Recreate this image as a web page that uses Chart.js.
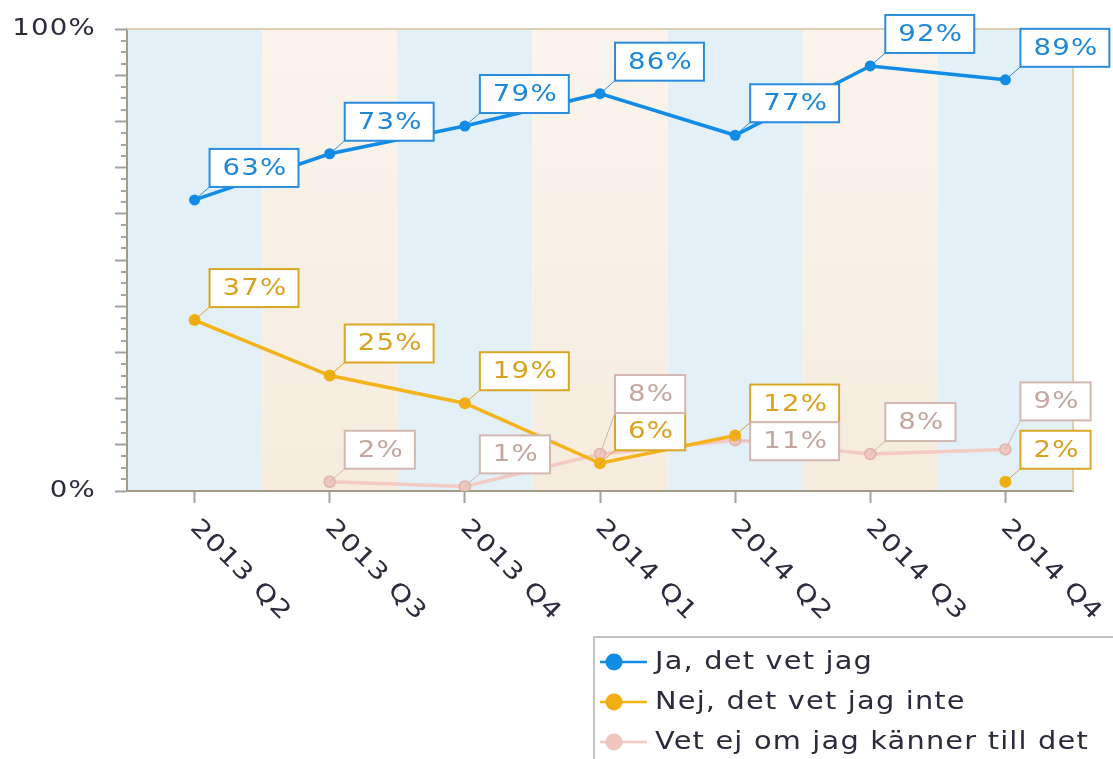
<!DOCTYPE html>
<html>
<head>
<meta charset="utf-8">
<script src="https://cdn.jsdelivr.net/npm/chart.js@4.4.1/dist/chart.umd.min.js"></script>
<style>
  html, body { margin: 0; padding: 0; background: #fff; }
  #wrap { width: 1113px; height: 759px; }
</style>
</head>
<body>
<div id="wrap"><canvas id="chart" width="1113" height="759"></canvas></div>
<script>
// data
const quarters = ['2013 Q2', '2013 Q3', '2013 Q4', '2014 Q1', '2014 Q2', '2014 Q3', '2014 Q4'];
const jaVetJag = [63, 73, 79, 86, 77, 92, 89];
const nejVetJagInte = [37, 25, 19, 6, 12, null, 2];
const vetEjOmJag = [null, 2, 1, 8, 11, 8, 9];
const seriesNames = ['Ja, det vet jag', 'Nej, det vet jag inte', 'Vet ej om jag känner till det'];
const yTickLabels = [0, 100];

const FONT = '"DejaVu Sans", Verdana, sans-serif';
const SX = 1.2; // the original font is wide, stretch text a bit
const textColor = '#2b2b3d';

// label box colours per series, and nudges where boxes would collide
const labelColors = ['#1d87d8', '#d9a11e', '#c4a6a0'];
const labelBorders = ['#2a8cdc', '#dba624', '#d3b8b2'];
const labelNudge = { '2:3': -28, '2:4': 33, '2:6': -16 };

function textWidth(ctx, text) {
  return ctx.measureText(text).width * SX;
}

function wideText(ctx, text, x, y, align) {
  const w = textWidth(ctx, text);
  const x0 = align === 'right' ? x - w : align === 'center' ? x - w / 2 : x;
  ctx.save();
  ctx.textAlign = 'left';
  ctx.translate(x0, y);
  ctx.scale(SX, 1);
  ctx.fillText(text, 0, 0);
  ctx.restore();
}

const decor = {
  id: 'decor',
  beforeDraw(chart) {
    const { ctx, chartArea: a, scales: { x } } = chart;
    const half = (x.getPixelForValue(1) - x.getPixelForValue(0)) / 2;
    ctx.save();
    quarters.forEach((q, i) => {
      const cx = x.getPixelForValue(i);
      if (i % 2) {
        const g = ctx.createLinearGradient(0, a.top, 0, a.bottom);
        g.addColorStop(0, '#faf4ec');
        g.addColorStop(1, '#f5ecde');
        ctx.fillStyle = g;
      } else {
        ctx.fillStyle = '#e3f0f7';
      }
      ctx.fillRect(cx - half, a.top, half * 2, a.bottom - a.top);
    });
    ctx.restore();
  },
  beforeDatasetsDraw(chart) {
    const { ctx, chartArea: a, scales: { x, y } } = chart;
    ctx.save();
    // top and right frame
    ctx.strokeStyle = '#dccfb2';
    ctx.lineWidth = 2;
    ctx.beginPath();
    ctx.moveTo(a.left, a.top);
    ctx.lineTo(a.right, a.top);
    ctx.lineTo(a.right, a.bottom);
    ctx.stroke();
    // minor ticks on y
    ctx.strokeStyle = '#a5a5a5';
    ctx.lineWidth = 2;
    for (let v = 2.5; v < 100; v += 2.5) {
      if (v % 10 === 0) continue;
      const py = Math.round(y.getPixelForValue(v));
      ctx.beginPath();
      ctx.moveTo(a.left - 6, py);
      ctx.lineTo(a.left, py);
      ctx.stroke();
    }
    // y labels
    ctx.font = '23px ' + FONT;
    ctx.letterSpacing = '1px';
    ctx.fillStyle = textColor;
    ctx.textBaseline = 'middle';
    yTickLabels.forEach(v => wideText(ctx, v + '%', a.left - 31, y.getPixelForValue(v), 'right'));
    // x labels, rotated down-right
    ctx.font = '24px ' + FONT;
    quarters.forEach((q, i) => {
      ctx.save();
      ctx.translate(x.getPixelForValue(i) - 1, a.bottom + 33);
      ctx.rotate(Math.PI / 4);
      wideText(ctx, q, 0, 0, 'left');
      ctx.restore();
    });
    ctx.restore();
  },
  afterDatasetsDraw(chart) {
    const ctx = chart.ctx;
    ctx.save();
    ctx.font = '23px ' + FONT;
    ctx.letterSpacing = '1px';
    ctx.textBaseline = 'middle';
    chart.data.datasets.forEach((ds, di) => {
      const meta = chart.getDatasetMeta(di);
      ds.data.forEach((v, i) => {
        if (v === null) return;
        const pt = meta.data[i];
        const text = v + '%';
        const w = textWidth(ctx, text) + 24;
        const h = 38;
        const left = pt.x + 15;
        const bottom = pt.y - 13 + (labelNudge[di + ':' + i] || 0);
        const top = bottom - h;
        const ly = Math.min(Math.max(pt.y, top), bottom);
        ctx.strokeStyle = labelBorders[di];
        ctx.lineWidth = 1;
        ctx.beginPath();
        ctx.moveTo(pt.x, pt.y);
        ctx.lineTo(left, ly);
        ctx.stroke();
        ctx.fillStyle = '#fff';
        ctx.fillRect(left, top, w, h);
        ctx.lineWidth = 2;
        ctx.strokeRect(left, top, w, h);
        ctx.fillStyle = labelColors[di];
        wideText(ctx, text, left + w / 2 + 1, top + h / 2 + 1, 'center');
      });
    });
    ctx.restore();
  },
  afterDraw(chart) {
    const ctx = chart.ctx;
    ctx.save();
    ctx.strokeStyle = '#c2c2c2';
    ctx.lineWidth = 2;
    ctx.strokeRect(594, 637, 600, 200);
    ctx.font = '24px ' + FONT;
    ctx.letterSpacing = '1px';
    ctx.textBaseline = 'middle';
    chart.data.datasets.forEach((ds, i) => {
      const ry = 662 + i * 40;
      ctx.strokeStyle = ds.borderColor;
      ctx.lineWidth = 2.5;
      ctx.beginPath();
      ctx.moveTo(600, ry);
      ctx.lineTo(647, ry);
      ctx.stroke();
      ctx.fillStyle = ds.pointBackgroundColor;
      ctx.beginPath();
      ctx.arc(614, ry, 8.5, 0, Math.PI * 2);
      ctx.fill();
      ctx.fillStyle = textColor;
      wideText(ctx, ds.label, 655, ry + 1, 'left');
    });
    ctx.restore();
  }
};

new Chart(document.getElementById('chart'), {
  type: 'line',
  data: {
    labels: quarters,
    datasets: [{
      label: seriesNames[0],
      data: jaVetJag,
      borderColor: '#118ce6',
      borderWidth: 3.5,
      pointRadius: 5.5,
      pointBackgroundColor: '#118ce6',
      pointBorderWidth: 0,
      tension: 0
    }, {
      label: seriesNames[1],
      data: nejVetJagInte,
      borderColor: '#f4b31b',
      borderWidth: 3.5,
      pointRadius: 6,
      pointBackgroundColor: '#f0ae14',
      pointBorderWidth: 0,
      tension: 0
    }, {
      label: seriesNames[2],
      data: vetEjOmJag,
      borderColor: '#f3cbc3',
      borderWidth: 3.5,
      pointRadius: 5.5,
      pointBackgroundColor: '#f0c7bf',
      pointBorderColor: '#dcb2aa',
      pointBorderWidth: 1.5,
      tension: 0
    }]
  },
  options: {
    responsive: false,
    animation: false,
    events: [],
    spanGaps: false,
    layout: { padding: { top: 29, right: 40, left: 0, bottom: 0 } },
    plugins: {
      legend: { display: false },
      tooltip: { enabled: false }
    },
    scales: {
      x: {
        type: 'category',
        offset: true,
        ticks: { display: false },
        grid: { drawOnChartArea: false, offset: false, tickLength: 12, tickColor: '#a3a3a3', tickWidth: 2 },
        border: { color: '#a39a88', width: 2 },
        afterFit(s) { s.height = 268; }
      },
      y: {
        min: 0,
        max: 100,
        ticks: { display: false, stepSize: 10 },
        grid: { drawOnChartArea: false, tickLength: 12, tickColor: '#a3a3a3', tickWidth: 2 },
        border: { color: '#a39a88', width: 2 },
        afterFit(s) { s.width = 127; }
      }
    }
  },
  plugins: [decor]
});
</script>
</body>
</html>
